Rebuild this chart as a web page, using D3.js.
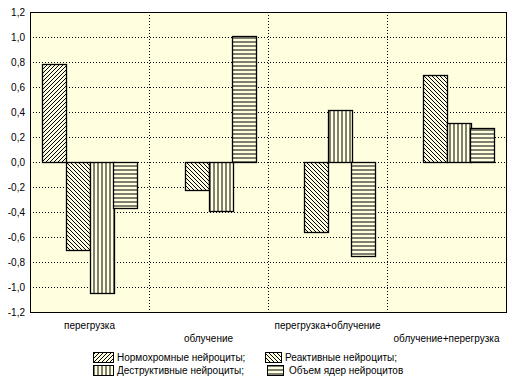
<!DOCTYPE html>
<html>
<head>
<meta charset="utf-8">
<script src="https://cdn.jsdelivr.net/npm/d3@7"></script>
<style>
  body { margin: 0; background: #fff; }
  svg text { font-family: "Liberation Sans", Arial, sans-serif; font-size: 10px; fill: #000; }
</style>
</head>
<body>
<div id="chart"></div>
<script>
// --- Data ---
const categories = ["перегрузка", "облучение", "перегрузка+облучение", "облучение+перегрузка"];
const seriesNames = ["Нормохромные нейроциты;", "Реактивные нейроциты;", "Деструктивные нейроциты;", "Объем ядер нейроцитов"];
const normochromic = [0.78, 0, 0, 0];
const reactive = [-0.70, -0.22, -0.56, 0.70];
const destructive = [-1.05, -0.39, 0.42, 0.31];
const nucleusVolume = [-0.37, 1.01, -0.75, 0.27];
const yTicks = [-1.2, -1.0, -0.8, -0.6, -0.4, -0.2, 0, 0.2, 0.4, 0.6, 0.8, 1.0, 1.2];

const seriesValues = [normochromic, reactive, destructive, nucleusVolume];
const patternIds = ["p-fwd", "p-back", "p-vert", "p-horiz"];

// --- Layout ---
const W = 512, H = 384;
const plot = { left: 30, right: 506, top: 12, bottom: 312 };
const bg = "#ffffe0";

const svg = d3.select("#chart").append("svg")
  .attr("width", W).attr("height", H);

// --- Hatch patterns ---
const defs = svg.append("defs");
function addPattern(id, d) {
  const p = defs.append("pattern")
    .attr("id", id)
    .attr("patternUnits", "userSpaceOnUse")
    .attr("width", 4).attr("height", 4);
  p.append("rect").attr("width", 4).attr("height", 4).attr("fill", bg);
  p.append("path").attr("d", d).attr("stroke", "#000").attr("stroke-width", 1).attr("fill", "none");
}
addPattern("p-fwd", "M-1,1 l2,-2 M0,4 l4,-4 M3,5 l2,-2");
addPattern("p-back", "M-1,3 l2,2 M0,0 l4,4 M3,-1 l2,2");
addPattern("p-vert", "M2,0 V4");
addPattern("p-horiz", "M0,2 H4");

// --- Scales ---
const x0 = d3.scaleBand()
  .domain(categories)
  .range([plot.left, plot.right]);

const x1 = d3.scaleBand()
  .domain(d3.range(seriesNames.length))
  .range([0, x0.bandwidth()])
  .paddingOuter(0.48);

const y = d3.scaleLinear()
  .domain([-1.2, 1.2])
  .range([plot.bottom, plot.top]);

// --- Plot background ---
svg.append("rect")
  .attr("x", plot.left).attr("y", plot.top)
  .attr("width", plot.right - plot.left).attr("height", plot.bottom - plot.top)
  .attr("fill", bg);

// --- Gridlines ---
svg.append("g")
  .selectAll("line")
  .data(yTicks.filter(t => t > -1.2 && t < 1.2))
  .join("line")
  .attr("x1", plot.left).attr("x2", plot.right)
  .attr("y1", d => Math.round(y(d)) + 0.5).attr("y2", d => Math.round(y(d)) + 0.5)
  .attr("stroke", "#000").attr("stroke-dasharray", "1,2");

svg.append("g")
  .selectAll("line")
  .data(categories.slice(1))
  .join("line")
  .attr("x1", d => Math.round(x0(d)) + 0.5).attr("x2", d => Math.round(x0(d)) + 0.5)
  .attr("y1", plot.top).attr("y2", plot.bottom)
  .attr("stroke", "#000").attr("stroke-dasharray", "1,2");

// --- Bars ---
const rows = [];
categories.forEach((c, ci) => {
  seriesValues.forEach((vals, si) => {
    rows.push({ cat: c, s: si, value: vals[ci] });
  });
});

svg.append("g")
  .selectAll("rect")
  .data(rows)
  .join("rect")
  .attr("x", d => Math.round(x0(d.cat) + x1(d.s)) + 0.5)
  .attr("width", Math.round(x1.bandwidth()))
  .attr("y", d => Math.round(y(Math.max(0, d.value))) + 0.5)
  .attr("height", d => Math.abs(Math.round(y(0)) - Math.round(y(d.value))))
  .attr("fill", d => `url(#${patternIds[d.s]})`)
  .attr("stroke", "#000")
  .attr("stroke-width", 1.3);

// --- Frame ---
svg.append("rect")
  .attr("x", plot.left + 0.5).attr("y", plot.top + 0.5)
  .attr("width", plot.right - plot.left).attr("height", plot.bottom - plot.top)
  .attr("fill", "none").attr("stroke", "#000");

// --- Y axis labels ---
const fmt = v => d3.format(".1f")(v).replace(".", ",").replace("−", "-");
svg.append("g")
  .selectAll("text")
  .data(yTicks)
  .join("text")
  .attr("x", 25)
  .attr("y", d => y(d))
  .attr("dy", "0.35em")
  .attr("text-anchor", "end")
  .text(fmt);

// --- Category labels (staggered) ---
svg.append("g")
  .selectAll("text")
  .data(categories)
  .join("text")
  .attr("x", d => x0(d) + x0.bandwidth() / 2)
  .attr("y", (d, i) => i % 2 === 0 ? 329 : 342)
  .attr("text-anchor", "middle")
  .text(d => d);

// --- Legend ---
const legendPos = [
  { sx: 93, tx: 117, y: 352 },
  { sx: 265, tx: 285, y: 352 },
  { sx: 93, tx: 117, y: 365 },
  { sx: 267, tx: 289, y: 365 }
];
const legend = svg.append("g")
  .selectAll("g")
  .data(seriesNames)
  .join("g");

legend.append("rect")
  .attr("x", (d, i) => legendPos[i].sx + 0.5)
  .attr("y", (d, i) => legendPos[i].y + 0.5)
  .attr("width", (d, i) => i === 0 || i === 2 ? 20 : 16)
  .attr("height", 10)
  .attr("fill", (d, i) => `url(#${patternIds[i]})`)
  .attr("stroke", "#000");

legend.append("text")
  .attr("x", (d, i) => legendPos[i].tx)
  .attr("y", (d, i) => legendPos[i].y + 5)
  .attr("dy", "0.35em")
  .text(d => d);
</script>
</body>
</html>
